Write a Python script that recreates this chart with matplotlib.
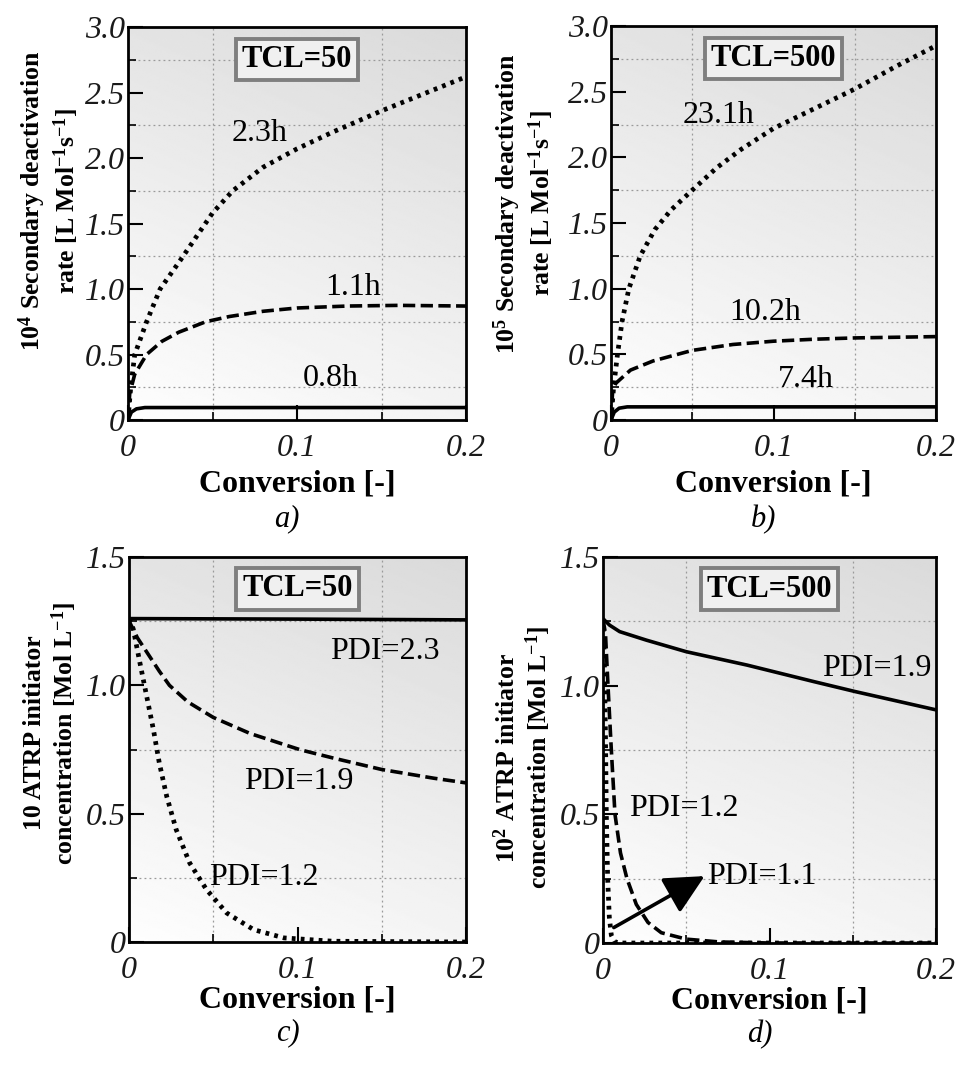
import numpy as np
import matplotlib
matplotlib.use('Agg')
import matplotlib.pyplot as plt

plt.rcParams['font.family'] = ['Liberation Serif', 'DejaVu Serif']
plt.rcParams['mathtext.fontset'] = 'custom'
plt.rcParams['mathtext.rm'] = 'Liberation Serif'
plt.rcParams['mathtext.bf'] = 'Liberation Serif:bold'
plt.rcParams['mathtext.it'] = 'Liberation Serif:italic'

# ---- panel a: TCL=50, secondary deactivation rate (x1e4)
a_x_23 = [0, 0.0016, 0.004, 0.011, 0.019, 0.031, 0.05, 0.062, 0.08, 0.1, 0.1215, 0.15, 0.175, 0.2]
a_y_23 = [0, 0.25, 0.5, 0.75, 1.0, 1.22, 1.58, 1.75, 1.93, 2.07, 2.2, 2.36, 2.49, 2.62]
a_x_11 = [0, 0.001, 0.004, 0.011, 0.02, 0.03, 0.046, 0.06, 0.08, 0.1, 0.13, 0.16, 0.2]
a_y_11 = [0, 0.2, 0.35, 0.5, 0.6, 0.67, 0.75, 0.79, 0.83, 0.855, 0.87, 0.875, 0.87]
a_x_08 = [0, 0.002, 0.005, 0.01, 0.05, 0.2]
a_y_08 = [0, 0.06, 0.085, 0.095, 0.095, 0.095]

# ---- panel b: TCL=500, secondary deactivation rate (x1e5)
b_x_231 = [0, 0.0016, 0.004, 0.0068, 0.011, 0.018, 0.027, 0.037, 0.05, 0.065, 0.08, 0.1, 0.125, 0.15, 0.175, 0.2]
b_y_231 = [0, 0.25, 0.5, 0.75, 1.0, 1.25, 1.45, 1.6, 1.75, 1.92, 2.06, 2.22, 2.37, 2.52, 2.69, 2.85]
b_x_102 = [0, 0.001, 0.003, 0.012, 0.026, 0.05, 0.075, 0.1, 0.125, 0.15, 0.2]
b_y_102 = [0, 0.22, 0.28, 0.38, 0.45, 0.53, 0.575, 0.6, 0.615, 0.625, 0.635]
b_x_74 = [0, 0.002, 0.005, 0.01, 0.05, 0.2]
b_y_74 = [0, 0.06, 0.09, 0.1, 0.1, 0.1]

# ---- panel c: TCL=50, ATRP initiator (x10)
c_x_23 = [0, 0.1, 0.2]
c_y_23 = [1.26, 1.258, 1.255]
c_x_19 = [0, 0.0008, 0.005, 0.0125, 0.018, 0.024, 0.035, 0.05, 0.072, 0.1016, 0.121, 0.15, 0.181, 0.2]
c_y_19 = [1.26, 1.24, 1.185, 1.11, 1.055, 1.0, 0.935, 0.875, 0.812, 0.749, 0.717, 0.672, 0.638, 0.62]
c_x_12 = [0, 0.0025, 0.0065, 0.0105, 0.0145, 0.018, 0.0224, 0.028, 0.036, 0.046, 0.058, 0.074, 0.092, 0.121, 0.2]
c_y_12 = [1.26, 1.22, 1.087, 0.957, 0.827, 0.697, 0.567, 0.438, 0.308, 0.204, 0.113, 0.048, 0.016, 0.003, 0.0]

# ---- panel d: TCL=500, ATRP initiator (x1e2)
d_x_19 = [0, 0.004, 0.01, 0.026, 0.05, 0.0865, 0.1265, 0.1515, 0.2]
d_y_19 = [1.26, 1.235, 1.21, 1.177, 1.132, 1.08, 1.016, 0.977, 0.906]
d_x_12 = [0, 0.0015, 0.003, 0.005, 0.0072, 0.0105, 0.0144, 0.02, 0.027, 0.035, 0.05, 0.07, 0.1, 0.2]
d_y_12 = [1.26, 1.2, 1.0, 0.75, 0.5, 0.35, 0.25, 0.15, 0.08, 0.04, 0.015, 0.004, 0.0, 0.0]
d_x_11 = [0, 0.0008, 0.0015, 0.002, 0.0028, 0.0038, 0.005, 0.007, 0.01, 0.2]
d_y_11 = [1.26, 1.1, 0.8, 0.5, 0.25, 0.1, 0.03, 0.005, 0.0, 0.0]

x_ticks = [0, 0.1, 0.2]
x_tick_labels = ['0', '0.1', '0.2']
x_minor = [0.05, 0.15]
y_ticks_top = [0, 0.5, 1.0, 1.5, 2.0, 2.5, 3.0]
y_tick_labels_top = ['0', '0.5', '1.0', '1.5', '2.0', '2.5', '3.0']
y_minor_top = [0.25, 0.75, 1.25, 1.75, 2.25, 2.75]
y_ticks_bot = [0, 0.5, 1.0, 1.5]
y_tick_labels_bot = ['0', '0.5', '1.0', '1.5']
y_minor_bot = [0.25, 0.75, 1.25]

W, H = 959, 1068
fig = plt.figure(figsize=(W / 100, H / 100), dpi=100)
fig.patch.set_facecolor('white')

def make_axes(left, right, top, bottom):
    return fig.add_axes([left / W, 1 - bottom / H, (right - left) / W, (bottom - top) / H])

DOT = (0, (0.8, 1.1))
DASH = (0, (3.4, 1.5))

def style_axes(ax, ymax, yt, ytl, ymin_t):
    # gradient background: white bottom-left to grey top-right
    u, v = np.meshgrid(np.linspace(0, 1, 200), np.linspace(0, 1, 200))
    shade = 0.995 - 0.14 * (0.8 * v + 0.3 * u) / 1.1
    ax.imshow(shade, extent=[0, 1, 0, 1], transform=ax.transAxes, origin='lower',
              cmap='gray', vmin=0, vmax=1, aspect='auto', zorder=0, interpolation='bilinear')
    ax.set_xlim(0, 0.2)
    ax.set_ylim(0, ymax)
    ax.set_xticks(x_ticks, labels=x_tick_labels, fontstyle='italic', fontsize=23)
    ax.set_xticks(x_minor, minor=True)
    ax.set_yticks(yt, labels=ytl, fontstyle='italic', fontsize=23)
    ax.set_yticks(ymin_t, minor=True)
    ax.tick_params(which='major', direction='in', length=11, width=1.5, color='black')
    ax.tick_params(which='minor', direction='in', length=6, width=1.2, color='black')
    ax.tick_params(axis='x', which='major', pad=10, labelcolor='#1a1a1a')
    ax.tick_params(axis='y', which='major', pad=2, labelcolor='#1a1a1a')
    ax.grid(which='minor', color='#9a9a9a', linestyle=(0, (1.5, 2.5)), linewidth=0.9)
    ax.grid(which='major', visible=False)
    for s in ax.spines.values():
        s.set_linewidth(2.0)
        s.set_zorder(5)

def tcl_box(ax, txt):
    ax.text(0.5, 0.917, txt, transform=ax.transAxes, ha='center', va='center',
            fontsize=22, fontweight='bold', zorder=6,
            bbox=dict(boxstyle='square,pad=0.2', fc='#f0f0f0', ec='#7f7f7f', lw=2.8))

def captions(ax, xlab_y, cap, cap_y, ylab, ylx, yly):
    ax.text(0.5, xlab_y, 'Conversion [-]', transform=ax.transAxes, ha='center', va='center',
            fontsize=23, fontweight='bold')
    ax.text(0.47, cap_y, cap, transform=ax.transAxes, ha='center', va='center',
            fontsize=22, fontstyle='italic')
    ax.text(ylx, yly, ylab, transform=ax.transAxes, ha='center', va='center', rotation=90,
            fontsize=18.5, fontweight='bold', linespacing=1.15, multialignment='center')

LBL = 23

# panel a
ax = make_axes(128, 466, 27, 420)
style_axes(ax, 3.0, y_ticks_top, y_tick_labels_top, y_minor_top)
ax.plot(a_x_23, a_y_23, color='black', lw=3.4, linestyle=DOT, zorder=3)
ax.plot(a_x_11, a_y_11, color='black', lw=2.6, linestyle=DASH, zorder=3)
ax.plot(a_x_08, a_y_08, color='black', lw=2.6, zorder=3)
ax.text(0.078, 2.19, '2.3h', fontsize=LBL, ha='center', va='center', zorder=4)
ax.text(0.133, 1.01, '1.1h', fontsize=LBL, ha='center', va='center', zorder=4)
ax.text(0.12, 0.32, '0.8h', fontsize=LBL, ha='center', va='center', zorder=4)
tcl_box(ax, 'TCL=50')
captions(ax, -0.162, 'a)', -0.252,
         '10$^{\\mathbf{4}}$ Secondary deactivation\nrate [L Mol$^{\\mathbf{-1}}$s$^{\\mathbf{-1}}$]',
         -0.235, 0.557)

# panel b
ax = make_axes(611, 936, 26, 420)
style_axes(ax, 3.0, y_ticks_top, y_tick_labels_top, y_minor_top)
ax.plot(b_x_231, b_y_231, color='black', lw=3.4, linestyle=DOT, zorder=3)
ax.plot(b_x_102, b_y_102, color='black', lw=2.6, linestyle=DASH, zorder=3)
ax.plot(b_x_74, b_y_74, color='black', lw=2.6, zorder=3)
ax.text(0.066, 2.32, '23.1h', fontsize=LBL, ha='center', va='center', zorder=4)
ax.text(0.095, 0.82, '10.2h', fontsize=LBL, ha='center', va='center', zorder=4)
ax.text(0.12, 0.31, '7.4h', fontsize=LBL, ha='center', va='center', zorder=4)
tcl_box(ax, 'TCL=500')
captions(ax, -0.162, 'b)', -0.252,
         '10$^{\\mathbf{5}}$ Secondary deactivation\nrate [L Mol$^{\\mathbf{-1}}$s$^{\\mathbf{-1}}$]',
         -0.268, 0.55)

# panel c
ax = make_axes(129, 466, 557, 942)
style_axes(ax, 1.5, y_ticks_bot, y_tick_labels_bot, y_minor_bot)
ax.plot(c_x_12, c_y_12, color='black', lw=3.4, linestyle=DOT, zorder=3)
ax.plot(c_x_19, c_y_19, color='black', lw=2.6, linestyle=DASH, zorder=3)
ax.plot(c_x_23, c_y_23, color='black', lw=2.6, zorder=3)
ax.text(0.152, 1.13, 'PDI=2.3', fontsize=LBL, ha='center', va='center', zorder=4)
ax.text(0.1006, 0.626, 'PDI=1.9', fontsize=LBL, ha='center', va='center', zorder=4)
ax.text(0.08, 0.25, 'PDI=1.2', fontsize=LBL, ha='center', va='center', zorder=4)
tcl_box(ax, 'TCL=50')
captions(ax, -0.15, 'c)', -0.236,
         '10 ATRP initiator\nconcentration [Mol L$^{\\mathbf{-1}}$]',
         -0.23, 0.543)

# panel d
ax = make_axes(603, 936, 557, 943)
style_axes(ax, 1.5, y_ticks_bot, y_tick_labels_bot, y_minor_bot)
ax.plot(d_x_11, d_y_11, color='black', lw=3.4, linestyle=DOT, zorder=3)
ax.plot(d_x_12, d_y_12, color='black', lw=2.6, linestyle=DASH, zorder=3)
ax.plot(d_x_19, d_y_19, color='black', lw=2.6, zorder=3)
ax.text(0.1646, 1.067, 'PDI=1.9', fontsize=LBL, ha='center', va='center', zorder=4)
ax.text(0.0484, 0.524, 'PDI=1.2', fontsize=LBL, ha='center', va='center', zorder=4)
ax.text(0.0625, 0.26, 'PDI=1.1', fontsize=LBL, ha='left', va='center', zorder=4)
ax.annotate('', xy=(0.061, 0.26), xytext=(0.0065, 0.06), zorder=4,
            arrowprops=dict(arrowstyle='-|>,head_length=0.9,head_width=0.45', color='black',
                            lw=2.6, shrinkA=0, shrinkB=0, mutation_scale=27))
tcl_box(ax, 'TCL=500')
captions(ax, -0.149, 'd)', -0.236,
         '10$^{\\mathbf{2}}$ ATRP initiator\nconcentration [Mol L$^{\\mathbf{-1}}$]',
         -0.239, 0.48)

fig.savefig('out.png', dpi=100)
